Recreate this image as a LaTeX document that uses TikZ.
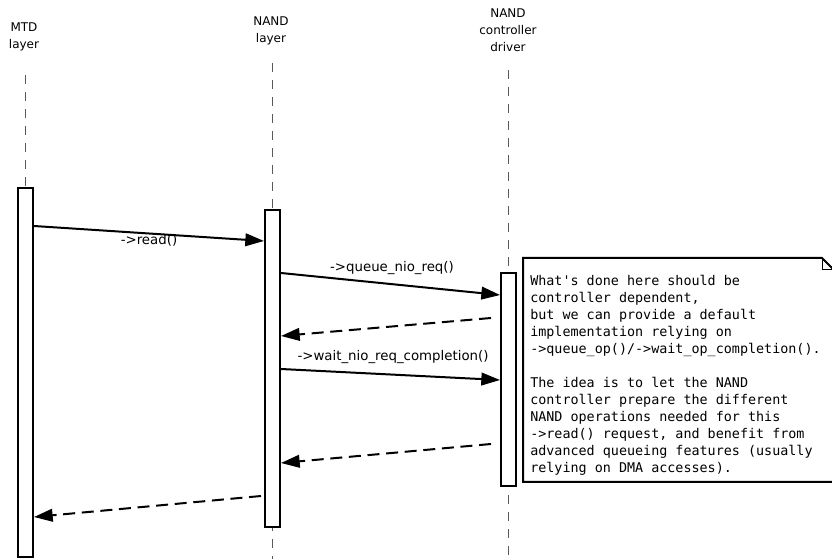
\documentclass[tikz,border=0pt]{standalone}
\usepackage{fontspec}
\setmainfont{DejaVu Sans}
\setmonofont{DejaVu Sans Mono}
\usetikzlibrary{positioning, arrows.meta}
\tikzset{
  >={Triangle[length=14pt,width=9.5pt]},
  head/.style={align=center,font=\fontsize{9}{12.75}\selectfont,inner sep=0pt},
  lifeline/.style={black!65,line width=0.75pt,dash pattern=on 6.75pt off 6pt},
  actbox/.style={draw,line width=1.5pt,fill=white,minimum width=11.25pt,inner sep=0pt},
  call/.style={->,line width=1.5pt},
  reply/.style={->,line width=1.5pt,dash pattern=on 9pt off 5pt},
  msg/.style={font=\fontsize{10}{12}\selectfont,inner sep=1pt},
  notetext/.style={align=left,font=\fontsize{10.05}{12.75}\ttfamily,inner sep=0pt,anchor=north west}
}

\begin{document}
\begin{tikzpicture}[x=0.75pt, y=-0.75pt]
  \useasboundingbox (0,0) rectangle (832,559);

  % Lifeline heads
  \node[head] (mtdhead) at (24,37) {MTD\\layer};
  \node[head] (nandhead) at (271,31) {NAND\\layer};
  \node[head] (ctrlhead) at (508,30) {NAND\\controller\\driver};

  \coordinate (mtdtop) at (25.5,75);
  \coordinate (nandtop) at (272.5,63);
  \coordinate (ctrltop) at (508.5,70);
  \coordinate (nandend) at (272.5,565);
  \coordinate (ctrlend) at (508.5,565);

  % Lifelines
  \draw[lifeline] (mtdtop) -- (25.5,190);
  \draw[lifeline] (nandtop) -- (nandend);
  \draw[lifeline] (ctrltop) -- (ctrlend);

  % Activation boxes
  \node[actbox,minimum height=276.75pt] (mtdbox) at (25.5,372.5) {};
  \node[actbox,minimum height=237.75pt] (nandbox) at (272.5,368.5) {};
  \node[actbox,minimum height=159.75pt] (ctrlbox) at (508.5,379.5) {};

  % Messages
  \coordinate (readfrom) at (mtdbox.east |- 0,226);
  \coordinate (readto) at (nandbox.west |- 0,241);
  \coordinate (queuefrom) at (nandbox.east |- 0,273);
  \coordinate (queueto) at (ctrlbox.west |- 0,295);
  \coordinate (queueret) at ([xshift=-6.75pt]ctrlbox.west |- 0,318);
  \coordinate (queueback) at (nandbox.east |- 0,336);
  \coordinate (waitfrom) at (nandbox.east |- 0,369);
  \coordinate (waitto) at (ctrlbox.west |- 0,380);
  \coordinate (waitret) at ([xshift=-6.75pt]ctrlbox.west |- 0,444);
  \coordinate (waitback) at (nandbox.east |- 0,463);
  \coordinate (readret) at ([xshift=-2.25pt]nandbox.west |- 0,496);
  \coordinate (readback) at (mtdbox.east |- 0,517);

  \draw[call] (readfrom) -- (readto);
  \draw[call] (queuefrom) -- (queueto);
  \draw[reply] (queueret) -- (queueback);
  \draw[call] (waitfrom) -- (waitto);
  \draw[reply] (waitret) -- (waitback);
  \draw[reply] (readret) -- (readback);

  \node[msg] (readlbl) at (149,240) {->read()};
  \node[msg] (queuelbl) at (392,268) {->queue\_nio\_req()};
  \node[msg] (waitlbl) at (393,357) {->wait\_nio\_req\_completion()};

  % Note
  \draw[line width=1.5pt,fill=white] (523,258) -- (822,258) -- (834,270) -- (834,482) -- (523,482) -- cycle;
  \draw[line width=0.75pt] (822,258) -- (822,270) -- (834,270);
  \node[notetext] (note) at (530,275) {What's done here should be\\
    controller dependent,\\
    but we can provide a default\\
    implementation relying on\\
    ->queue\_op()/->wait\_op\_completion().\\[12.75pt]
    The idea is to let the NAND\\
    controller prepare the different\\
    NAND operations needed for this\\
    ->read() request, and benefit from\\
    advanced queueing features (usually\\
    relying on DMA accesses).};

\end{tikzpicture}
\end{document}
